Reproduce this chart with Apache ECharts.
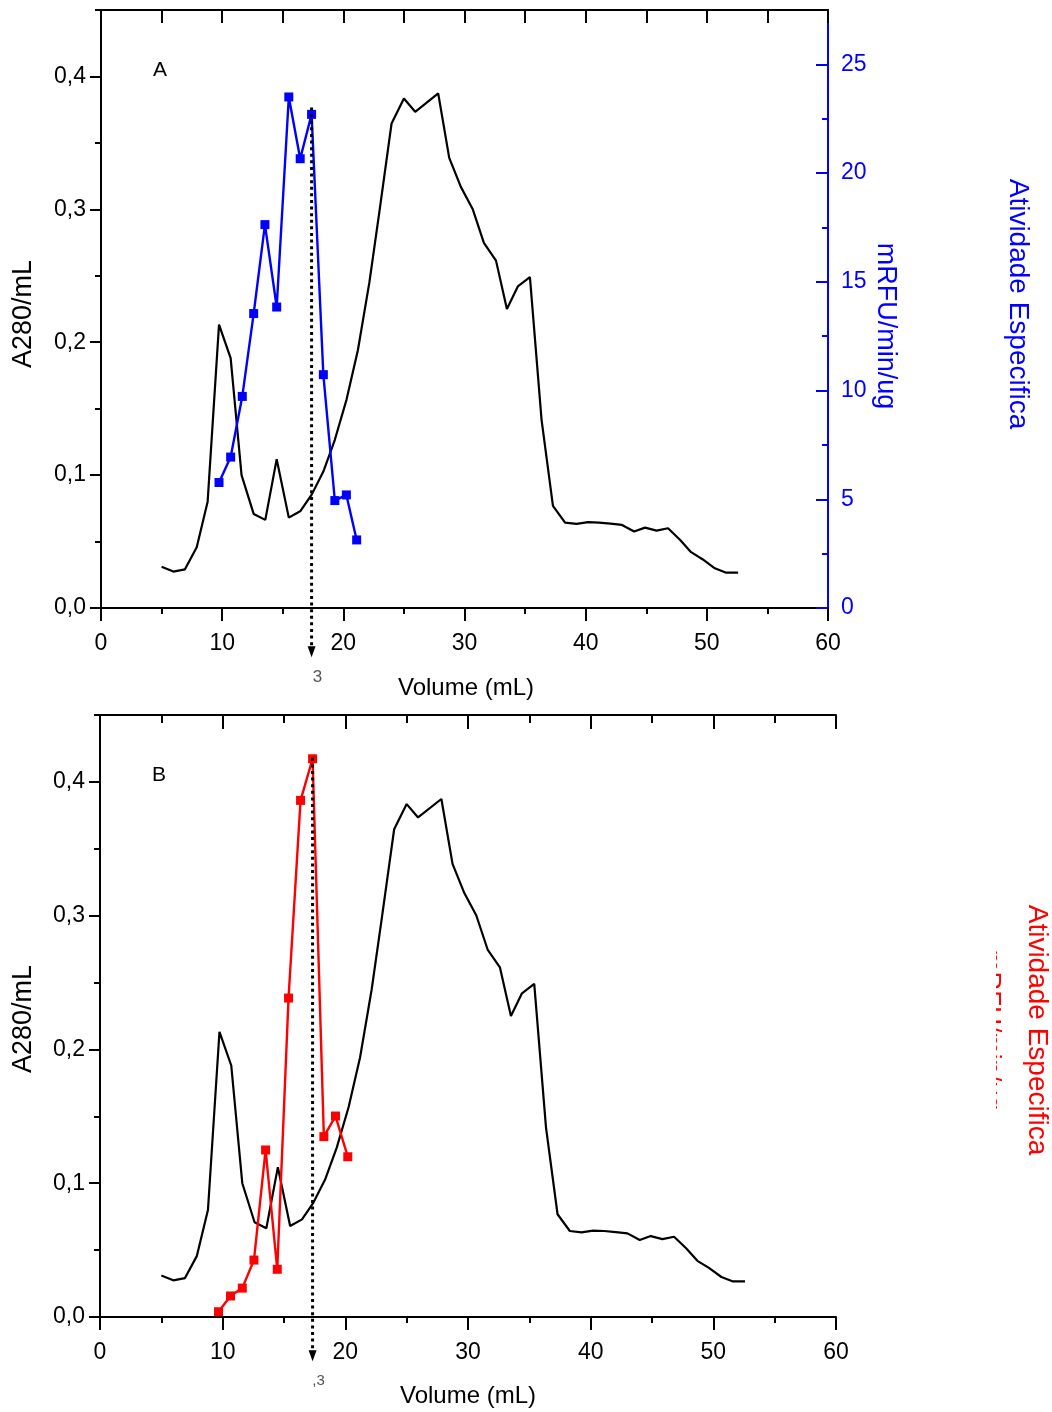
<!DOCTYPE html>
<html>
<head>
<meta charset="utf-8">
<script src="https://cdn.jsdelivr.net/npm/echarts@6/dist/echarts.min.js"></script>
<style>
html,body{margin:0;padding:0;background:#fff;}
#c{width:1052px;height:1412px;}
</style>
</head>
<body>
<div id="c"></div>
<script>
// ---- data ----
var volumeA280 = [5.0, 5.97, 6.93, 7.9, 8.8, 9.74, 10.7, 11.6, 12.6, 13.56, 14.5, 15.5, 16.47, 17.4, 18.35, 19.3, 20.27, 21.2, 22.15, 23.0, 23.98, 25.0, 25.93, 27.83, 28.74, 29.7, 30.67, 31.6, 32.6, 33.5, 34.4, 35.4, 36.36, 37.3, 38.3, 39.25, 40.2, 41.1, 42.05, 43.0, 44.0, 44.9, 45.85, 46.8, 47.8, 48.7, 49.64, 50.66, 51.6, 52.58];
var a280 = [0.031, 0.0274, 0.0291, 0.0457, 0.080, 0.2132, 0.188, 0.100, 0.0708, 0.0663, 0.112, 0.068, 0.073, 0.0855, 0.1027, 0.1266, 0.157, 0.194, 0.245, 0.2998, 0.3646, 0.3834, 0.3734, 0.3872, 0.3387, 0.3169, 0.3003, 0.2747, 0.2614, 0.225, 0.242, 0.249, 0.1416, 0.0768, 0.0643, 0.0633, 0.0646, 0.0643, 0.0635, 0.0625, 0.0575, 0.0605, 0.0582, 0.060, 0.0512, 0.042, 0.0367, 0.0299, 0.0266, 0.0266];
var volumeBlue = [9.74, 10.7, 11.66, 12.6, 13.53, 14.5, 15.5, 16.44, 17.38, 18.35, 19.3, 20.25, 21.1];
var activityBlue = [5.77, 6.94, 9.73, 13.54, 17.63, 13.84, 23.5, 20.66, 22.7, 10.73, 4.94, 5.2, 3.13];
var volumeRed = [9.66, 10.64, 11.6, 12.55, 13.5, 14.45, 15.37, 16.35, 17.33, 18.25, 19.2, 20.2];
var activityRed = [0.24, 0.96, 1.32, 2.6, 7.63, 2.18, 14.57, 23.6, 25.5, 8.24, 9.18, 7.32];
var a280Ticks = [0, 0.1, 0.2, 0.3, 0.4];
var a280Minor = [0.05, 0.15, 0.25, 0.35, 0.45];
var rfuTicks = [0, 5, 10, 15, 20, 25];
var rfuMinor = [2.5, 7.5, 12.5, 17.5, 22.5];
var volumeTicks = [0, 10, 20, 30, 40, 50, 60];
var arrowVolume = [17.38, 17.33];     // pooled fraction marker (mL)
var arrowTopA280 = [0.3766, 0.418];
var arrowTipA280 = [-0.037, -0.033];
var arrowLabels = ['3', ',3'];
var panelLetters = ['A', 'B'];

var FONT = 'Liberation Sans, Arial, sans-serif';
function pairs(xs, ys){ return xs.map(function(x,i){ return [x, ys[i]]; }); }
function fmt(v){ return v.toFixed(1).replace('.', ','); }

var chart = echarts.init(document.getElementById('c'), null, {renderer:'canvas'});

var rectA = {left:101, top:10, width:727, height:598};
var rectB = {left:100, top:715, width:736, height:602};
var grids = [rectA, rectB, rectA, rectB];   // grids 2,3: overlays holding minor-tick axes

function bottomX(g){
  return {gridIndex:g, type:'value', position:'bottom', min:0, max:60, interval:10,
    axisLine:{show:true, onZero:false, lineStyle:{color:'#000', width:2}},
    axisTick:{show:true, inside:false, length:13, lineStyle:{color:'#000', width:2}},
    minorTick:{show:true, splitNumber:2, length:6, lineStyle:{color:'#000', width:2}},
    axisLabel:{show:true, margin:24, color:'#000', fontSize:23, fontFamily:FONT,
      customValues: volumeTicks},
    splitLine:{show:false}};
}
function topX(g, interval, len, minor){
  return {gridIndex:g, type:'value', position:'top', min:0, max:60, interval:interval,
    axisLine:{show:true, onZero:false, lineStyle:{color:'#000', width:2}},
    axisTick:{show:true, inside:true, length:len, lineStyle:{color:'#000', width:2}},
    minorTick:{show:minor, splitNumber:2, length:8, lineStyle:{color:'#000', width:2}},
    axisLabel:{show:false}, splitLine:{show:false}};
}
function hiddenX(g){
  return {gridIndex:g, type:'value', min:0, max:60, show:false};
}
function leftY(g){
  return {gridIndex:g, type:'value', position:'left', min:0, max:0.45, interval:0.1,
    axisLine:{show:true, onZero:false, lineStyle:{color:'#000', width:2}},
    axisTick:{show:true, inside:false, length:11, customValues:a280Ticks, lineStyle:{color:'#000', width:2}},
    axisLabel:{show:true, margin:15, color:'#000', fontSize:23, fontFamily:FONT, customValues:a280Ticks,
      formatter:function(v){ return v > 0.42 ? '' : fmt(v); }},
    splitLine:{show:false}};
}
function leftYMinor(g){
  return {gridIndex:g, type:'value', position:'left', min:0, max:0.45, interval:0.05,
    axisLine:{show:false}, axisLabel:{show:false}, splitLine:{show:false},
    axisTick:{show:true, inside:false, length:6, customValues:a280Minor, lineStyle:{color:'#000', width:2}}};
}

var xAxis = [bottomX(0), topX(0, 5, 13, false), bottomX(1), topX(1, 10, 14, true), hiddenX(2), hiddenX(3)];
var yAxis = [
  leftY(0),                                                      // 0
  {gridIndex:0, type:'value', position:'right', min:0, max:27.5, interval:5,   // 1
    axisLine:{show:true, onZero:false, lineStyle:{color:'#0000ff', width:2}},
    axisTick:{show:true, inside:true, length:12, customValues:rfuTicks, lineStyle:{color:'#0000ff', width:2}},
    axisLabel:{show:true, margin:13, color:'#0000ff', fontSize:23, fontFamily:FONT, customValues:rfuTicks,
      formatter:function(v){ return v > 26 ? '' : String(v); }},
    splitLine:{show:false}},
  leftY(1),                                                      // 2
  {gridIndex:1, type:'value', position:'right', min:0, max:27.5, show:false},  // 3
  leftYMinor(2),                                                 // 4
  {gridIndex:2, type:'value', position:'right', min:0, max:27.5, interval:2.5,  // 5
    axisLine:{show:false}, axisLabel:{show:false}, splitLine:{show:false},
    axisTick:{show:true, inside:true, length:6, customValues:rfuMinor, lineStyle:{color:'#0000ff', width:2}}},
  leftYMinor(3)                                                  // 6
];

var series = [
  {type:'line', name:'A280 A', xAxisIndex:0, yAxisIndex:0, data:pairs(volumeA280, a280),
    symbol:'none', lineStyle:{color:'#000', width:2.2}, itemStyle:{color:'#000'}, z:2},
  {type:'line', name:'Atividade A', xAxisIndex:0, yAxisIndex:1, data:pairs(volumeBlue, activityBlue),
    symbol:'rect', symbolSize:9, lineStyle:{color:'#0000ff', width:2.4}, itemStyle:{color:'#0000ff'}, z:3},
  {type:'line', name:'A280 B', xAxisIndex:2, yAxisIndex:2, data:pairs(volumeA280, a280),
    symbol:'none', lineStyle:{color:'#000', width:2.2}, itemStyle:{color:'#000'}, z:2},
  {type:'line', name:'Atividade B', xAxisIndex:2, yAxisIndex:3, data:pairs(volumeRed, activityRed),
    symbol:'rect', symbolSize:9, lineStyle:{color:'#ff0000', width:2.4}, itemStyle:{color:'#ff0000'}, z:3, clip:false}
];

chart.setOption({
  animation:false,
  backgroundColor:'#fff',
  textStyle:{fontFamily:FONT},
  grid:grids, xAxis:xAxis, yAxis:yAxis, series:series
});

// ---- annotations placed through the axes' own scales ----
var graphics = [];
function txt(x, y, s, size, color, rot, extra){
  var o = {type:'text', x:x, y:y, rotation:rot||0, z:50,
    style:{text:s, fill:color, font:size+'px '+FONT, textAlign:'center', textVerticalAlign:'middle'}};
  if (extra) for (var k in extra) o[k] = extra[k];
  return o;
}
[0,1].forEach(function(p){
  var finder = {xAxisIndex: p*2, yAxisIndex: p*2};
  var top = chart.convertToPixel(finder, [arrowVolume[p], arrowTopA280[p]]);
  var tip = chart.convertToPixel(finder, [arrowVolume[p], arrowTipA280[p]]);
  graphics.push({type:'line', z:40, shape:{x1:top[0], y1:top[1], x2:tip[0], y2:tip[1]-8},
    style:{stroke:'#000', lineWidth:3, lineDash:[3,3.6], lineCap:'butt'}});
  graphics.push({type:'polygon', z:40, shape:{points:[[tip[0]-4, tip[1]-11],[tip[0]+4, tip[1]-11],[tip[0], tip[1]]]},
    style:{fill:'#000'}});
  graphics.push(txt(tip[0]+6, tip[1]+20, arrowLabels[p], p === 0 ? 17 : 15, '#555'));
  var corner = chart.convertToPixel(finder, [0, 0.45]);
  graphics.push(txt(corner[0]+59, corner[1]+60, panelLetters[p], 21, '#000'));
});
// axis titles
graphics.push(txt(466, 688, 'Volume (mL)', 24, '#000'));
graphics.push(txt(468, 1396, 'Volume (mL)', 24, '#000'));
graphics.push(txt(24, 314, 'A280/mL', 27, '#000', Math.PI/2));
graphics.push(txt(24, 1019, 'A280/mL', 27, '#000', Math.PI/2));
graphics.push(txt(885, 326, 'mRFU/min/ug', 27, '#0000ff', -Math.PI/2));
graphics.push(txt(1018, 304, 'Atividade Especifica', 28, '#0000ff', -Math.PI/2));
graphics.push(txt(1037, 1030, 'Atividade Especifica', 28, '#ff0000', -Math.PI/2));
// partially hidden red unit label
graphics.push(txt(990, 1030, 'mRFU/min/ug', 26, '#ff0000', -Math.PI/2, {z:45}));
graphics.push({type:'rect', z:46, shape:{x:960, y:930, width:36, height:200}, style:{fill:'#fff'}});
graphics.push({type:'rect', z:46, shape:{x:1002, y:930, width:16, height:200}, style:{fill:'#fff'}});
chart.setOption({graphic:graphics});
</script>
</body>
</html>
